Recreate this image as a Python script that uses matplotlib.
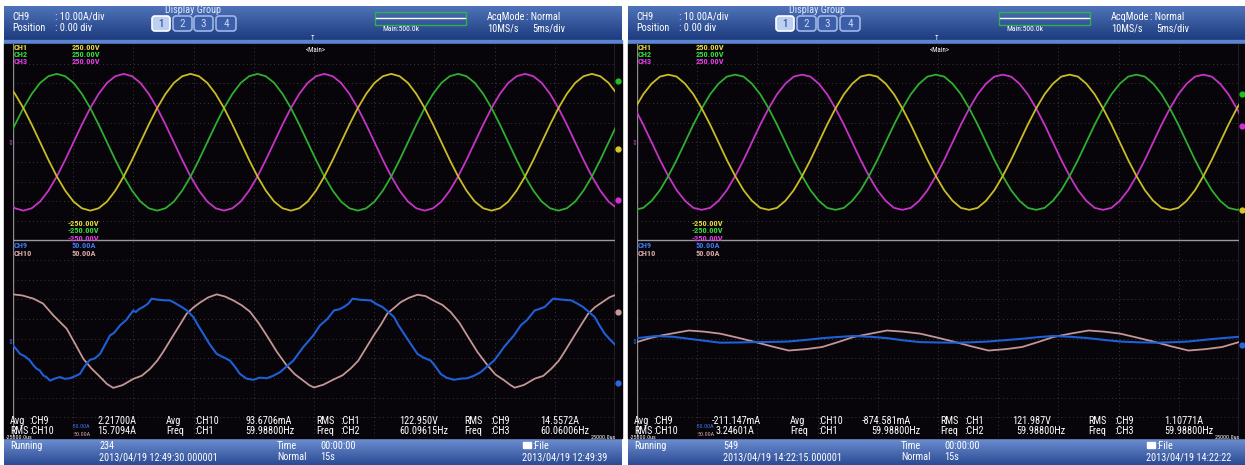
import matplotlib
matplotlib.use("Agg")
import matplotlib.pyplot as plt
import numpy as np
from matplotlib.patches import Rectangle, FancyBboxPatch
from matplotlib.colors import LinearSegmentedColormap

plt.rcParams['font.family'] = ['Roboto Condensed', 'Ubuntu Mono', 'Archivo Narrow', 'DejaVu Sans']

W, H = 1245, 465

# ---- sampling of the voltage traces (ms) ----
dt = 0.6944                      # one sample every 15 degrees of the 60 Hz cycle
t0_left, t0_right = -0.527, -0.177
n_volt = 75

# ---- voltages read from the screens (V) ----
ch1_left = [151, 123, 87, 45, 0, -45, -87, -123, -151, -168, -174, -168, -151, -123, -87, -45, 0, 45, 87, 123, 151, 168, 174, 168,
            151, 123, 87, 45, 0, -45, -87, -123, -151, -168, -174, -168, -151, -123, -87, -45, 0, 45, 87, 123, 151, 168, 174, 168,
            151, 123, 87, 45, 0, -45, -87, -123, -151, -168, -174, -168, -151, -123, -87, -45, 0, 45, 87, 123, 151, 168, 174, 168,
            151, 123, 87]
ch2_left = [0, 45, 87, 123, 151, 168, 174, 168, 151, 123, 87, 45, 0, -45, -87, -123, -151, -168, -174, -168, -151, -123, -87, -45,
            0, 45, 87, 123, 151, 168, 174, 168, 151, 123, 87, 45, 0, -45, -87, -123, -151, -168, -174, -168, -151, -123, -87, -45,
            0, 45, 87, 123, 151, 168, 174, 168, 151, 123, 87, 45, 0, -45, -87, -123, -151, -168, -174, -168, -151, -123, -87, -45,
            0, 45, 87]
ch3_left = [-151, -168, -174, -168, -151, -123, -87, -45, 0, 45, 87, 123, 151, 168, 174, 168, 151, 123, 87, 45, 0, -45, -87, -123,
            -151, -168, -174, -168, -151, -123, -87, -45, 0, 45, 87, 123, 151, 168, 174, 168, 151, 123, 87, 45, 0, -45, -87, -123,
            -151, -168, -174, -168, -151, -123, -87, -45, 0, 45, 87, 123, 151, 168, 174, 168, 151, 123, 87, 45, 0, -45, -87, -123,
            -151, -168, -174]
ch1_right = [86, 122, 149, 167, 172, 167, 149, 122, 86, 45, 0, -45, -86, -122, -149, -167, -172, -167, -149, -122, -86, -45, 0, 45,
             86, 122, 149, 167, 172, 167, 149, 122, 86, 45, 0, -45, -86, -122, -149, -167, -172, -167, -149, -122, -86, -45, 0, 45,
             86, 122, 149, 167, 172, 167, 149, 122, 86, 45, 0, -45, -86, -122, -149, -167, -172, -167, -149, -122, -86, -45, 0, 45,
             86, 122, 149]
ch2_right = [-172, -167, -149, -122, -86, -45, 0, 45, 86, 122, 149, 167, 172, 167, 149, 122, 86, 45, 0, -45, -86, -122, -149, -167,
             -172, -167, -149, -122, -86, -45, 0, 45, 86, 122, 149, 167, 172, 167, 149, 122, 86, 45, 0, -45, -86, -122, -149, -167,
             -172, -167, -149, -122, -86, -45, 0, 45, 86, 122, 149, 167, 172, 167, 149, 122, 86, 45, 0, -45, -86, -122, -149, -167,
             -172, -167, -149]
ch3_right = [86, 45, 0, -45, -86, -122, -149, -167, -172, -167, -149, -122, -86, -45, 0, 45, 86, 122, 149, 167, 172, 167, 149, 122,
             86, 45, 0, -45, -86, -122, -149, -167, -172, -167, -149, -122, -86, -45, 0, 45, 86, 122, 149, 167, 172, 167, 149, 122,
             86, 45, 0, -45, -86, -122, -149, -167, -172, -167, -149, -122, -86, -45, 0, 45, 86, 122, 149, 167, 172, 167, 149, 122,
             86, 45, 0]

# ---- currents read from the screens (ms, A) ----
ch10_left_t = [0.0, 0.8, 1.7, 2.5, 3.35, 4.46, 5.2, 5.84, 6.5, 7.23, 7.8, 8.33, 9.1, 10.0, 10.7, 11.38, 12.0, 12.48, 13.31,
               13.9, 14.43, 15.0, 15.53, 16.2, 16.92, 17.6, 18.3, 19.0, 19.68, 20.4, 21.07, 21.9, 22.73, 23.4, 24.11, 24.6,
               25.0, 25.77, 26.67, 27.37, 28.05, 28.67, 29.15, 29.98, 30.57, 31.1, 31.67, 32.2, 32.87, 33.59, 34.27, 34.97,
               35.67, 36.35, 37.07, 37.74, 38.57, 39.4, 40.07, 40.78, 41.3, 41.67, 42.44, 43.34, 44.04, 44.72, 45.34, 45.82,
               46.65, 47.24, 47.77, 48.34, 48.87, 49.54, 50.0]
ch10_left = [22.6, 22.0, 20.4, 17.9, 11.9, 5.1, -3.0, -10.2, -15.0, -19.4, -23.0, -25.0, -23.6, -20.4, -18.8, -15.3, -11.0, -6.6, 1.7,
             7.5, 12.8, 16.0, 18.4, 21.0, 22.6, 21.5, 19.5, 17.0, 13.8, 8.0, 1.7, -6.5, -13.6, -18.0, -21.3, -23.6,
             -24.8, -23.4, -20.6, -18.6, -15.1, -11.2, -6.4, 1.9, 7.3, 12.9, 15.8, 18.6, 20.8, 22.4, 21.7, 19.3,
             17.2, 13.6, 8.2, 1.5, -6.7, -13.4, -18.2, -21.1, -23.5, -24.9, -23.5, -20.3, -18.9, -15.2, -11.1, -6.5,
             1.8, 7.6, 12.7, 16.1, 18.3, 21.1, 22.2]

ch9_left_t = [0.0, 0.3, 0.58, 1.0, 1.41, 1.7, 1.97, 2.2, 2.52, 2.8, 3.07, 3.5, 3.9, 4.3, 4.73, 5.1, 5.56, 5.9, 6.2, 6.4, 6.8,
              7.23, 7.6, 8.06, 8.4, 8.89, 9.4, 9.99, 10.2, 10.5, 10.82, 11.2, 11.52, 12.0, 12.5, 13.04, 13.5, 14.0, 14.4,
              14.97, 15.4, 15.8, 16.3, 16.92, 17.4, 18.02, 18.4, 18.85, 19.4, 19.95, 20.5, 21.07, 21.6, 22.18, 22.7, 23.29,
              23.7, 24.11, 24.5, 24.94, 25.5, 26.1, 26.66, 27.1, 27.49, 27.9, 28.19, 28.9, 29.71, 30.2, 30.67, 31.2, 31.64,
              32.0, 32.47, 33.0, 33.59, 34.1, 34.69, 35.1, 35.52, 36.0, 36.62, 37.2, 37.74, 38.3, 38.85, 39.4, 39.96, 40.4,
              40.78, 41.2, 41.61, 42.17, 42.7, 43.33, 43.7, 44.16, 44.5, 44.86, 45.6, 46.38, 46.9, 47.34, 47.8, 48.31, 48.7,
              49.14, 49.6, 50.0]
ch9_left = [-3.4, -5.5, -7.7, -9.0, -11.1, -13.5, -15.3, -16.0, -18.7, -19.6, -21.3, -20.2, -19.5, -20.4, -20.1, -19.2, -17.9,
            -14.5, -12.0, -10.7, -10.0, -7.7, -3.5, 1.7, 3.0, 6.8, 9.5, 14.4, 13.6, 15.2, 16.2, 17.8, 20.4, 19.9, 19.6, 19.5,
            18.0, 16.2, 14.6, 11.1, 6.5, 2.6, -2.5, -7.7, -9.2, -11.1, -14.0, -17.9, -20.3, -20.9, -19.8, -20.1, -18.9, -17.0,
            -14.2, -11.1, -7.6, -4.2, -1.5, 1.7, 6.8, 10.0, 14.4, 15.0, 16.2, 18.0, 20.4, 19.8, 19.5, 17.6, 16.2, 13.5, 11.1,
            7.0, 2.6, -2.3, -7.7, -9.6, -11.1, -14.2, -17.9, -19.8, -20.9, -20.3, -20.1, -18.8, -17.0, -14.0, -11.1, -7.5,
            -4.2, -1.2, 1.7, 6.8, 9.6, 14.4, 15.1, 16.2, 18.2, 20.4, 19.9, 19.5, 17.8, 16.2, 13.8, 11.1, 6.9, 2.6, -0.5, -3.0]

ch10_right_t = [0.0, 1.0, 2.03, 3.2, 4.3, 5.6, 6.91, 8.4, 9.84, 11.2, 12.6, 14.0, 15.38, 16.7, 17.98, 19.4, 20.76, 22.1,
                23.52, 25.0, 26.45, 27.8, 29.2, 30.6, 31.99, 33.3, 34.59, 36.0, 37.5, 38.8, 40.13, 41.6, 43.06, 44.4, 45.8,
                47.2, 48.6, 50.0]
ch10_right = [-1.7, 0.2, 1.7, 3.0, 4.2, 3.6, 2.6, 0.5, -1.7, -3.9, -6.0, -5.3, -4.2, -1.7, 0.9, 2.6, 4.2, 3.6,
              2.6, 0.5, -1.7, -3.9, -6.0, -5.3, -4.2, -1.7, 0.9, 2.6, 4.2, 3.6, 2.6, 0.5, -1.7, -3.9, -6.0,
              -5.3, -4.2, -1.7]
ch9_right_t = [0.0, 1.6, 3.0, 4.3, 5.6, 6.9, 8.4, 9.8, 11.2, 12.6, 14.0, 15.4, 16.7, 18.0, 19.4, 20.8, 22.1, 23.5, 25.0,
               26.5, 27.8, 29.2, 30.6, 32.0, 33.3, 34.6, 36.0, 37.5, 38.8, 40.1, 41.6, 43.1, 44.4, 45.8, 47.2, 48.6, 50.0]
ch9_right = [0.3, 1.4, 1.0, 0.0, -1.0, -2.0, -1.9, -1.7, -1.6, -1.4, -0.6, 0.3, 0.9, 1.4, 1.0, 0.3, -0.8, -1.7, -1.9,
             -2.0, -1.8, -1.4, -0.7, 0.0, 0.8, 1.4, 1.0, 0.3, -0.6, -1.4, -1.8, -2.0, -1.8, -1.4, -0.5, 0.3, 1.0]

# ---- screen texts ----
left_info = {
    'count': '234', 'start': '2013/04/19 12:49:30.000001', 'stop': '2013/04/19 12:49:39',
    'row1': [('Avg', ':CH9', '2.21700A', 97), ('Avg', ':CH10', '93.6706mA', 245),
             ('RMS', ':CH1', '122.950V', 399), ('RMS', ':CH9', '14.5572A', 540)],
    'row2': [('RMS', ':CH10', '15.7094A', 97), ('Freq', ':CH1', '59.98800Hz', 245),
             ('Freq', ':CH2', '60.09615Hz', 399), ('Freq', ':CH3', '60.06006Hz', 540)],
    'marks': [('#22c022', 81), ('#d8c820', 149), ('#d030d0', 200), ('#c89a9a', 312), ('#2a66e0', 383)],
}
right_info = {
    'count': '549', 'start': '2013/04/19 14:22:15.000001', 'stop': '2013/04/19 14:22:22',
    'row1': [('Avg', ':CH9', '-211.147mA', 88), ('Avg', ':CH10', '-874.581mA', 238),
             ('RMS', ':CH1', '121.987V', 388), ('RMS', ':CH9', '1.10771A', 540)],
    'row2': [('RMS', ':CH10', '3.24601A', 92), ('Freq', ':CH1', '59.98800Hz', 247),
             ('Freq', ':CH2', '59.98800Hz', 392), ('Freq', ':CH3', '59.98800Hz', 540)],
    'marks': [('#22c022', 94), ('#d030d0', 126), ('#d8c820', 210), ('#2a66e0', 345)],
}

C_CH1, C_CH2, C_CH3 = '#c9bd25', '#2fae2f', '#c634c6'
C_CH9, C_CH10 = '#1f5fd6', '#c49696'

fig = plt.figure(figsize=(W / 100, H / 100), dpi=100)
fig.patch.set_facecolor('white')

bg = fig.add_axes([0, 0, 1, 1], zorder=0)
bg.axis('off')
tx = fig.add_axes([0, 0, 1, 1], zorder=5)
tx.axis('off')
tx.patch.set_alpha(0)
for a in (bg, tx):
    a.set_xlim(0, W)
    a.set_ylim(H, 0)


def grad(x0, x1, y0, y1, ctop, cbot):
    cm = LinearSegmentedColormap.from_list('g', [ctop, cbot])
    g = np.linspace(0, 1, 64).reshape(-1, 1)
    bg.imshow(g, cmap=cm, extent=(x0, x1, y1, y0), aspect='auto', zorder=1, interpolation='bilinear')


def txt(x, y, s, color='white', size=7.4, **kw):
    tx.text(x, y, s, color=color, fontsize=size, va='center', ha=kw.pop('ha', 'left'), **kw)


def panel(ox, v1, v2, v3, ct9, c9, ct10, c10, info):
    x0, x1 = ox + 4, min(ox + 622, W)
    # header and status bars
    grad(x0, x1, 6, 40, '#4f73b9', '#1d3b7e')
    bg.add_patch(Rectangle((x0, 40), x1 - x0, 4, color='#5b85cf', zorder=2))
    bg.add_patch(Rectangle((x0, 44), x1 - x0, 394, color='#07040a', zorder=2))
    grad(x0, x1, 438, 465, '#6f90d2', '#2a4b93')

    # header texts
    txt(ox + 12, 17, 'CH9')
    txt(ox + 55, 17, ': 10.00A/div')
    txt(ox + 12, 28, 'Position')
    txt(ox + 55, 28, ': 0.00 div')
    txt(ox + 193, 10, 'Display Group', color='#dfe8ff', ha='center')
    for i, (bx0, bx1) in enumerate([(152, 170), (173, 192), (194, 213), (216, 236)]):
        sel = i == 0
        tx.add_patch(FancyBboxPatch((ox + bx0 + 1.5, 17.5), bx1 - bx0 - 3, 12,
                                    boxstyle='round,pad=1.5,rounding_size=3',
                                    fc='#bcd0f2' if sel else '#3c5ea8',
                                    ec='white' if sel else '#9fb6e6', lw=1.2))
        txt(ox + (bx0 + bx1) / 2, 24, str(i + 1), color='#1d3b7e' if sel else '#c8d6f4', ha='center', size=8)
    tx.add_patch(Rectangle((ox + 375, 12), 91, 13, fill=False, ec='#2fb04a', lw=1))
    tx.plot([ox + 376, ox + 465], [18.5, 18.5], color='white', lw=1)
    txt(ox + 382, 29, 'Main:500.0k', size=5.5)
    txt(ox + 487, 17, 'AcqMode')
    txt(ox + 526, 17, ': Normal')
    txt(ox + 487, 28, '10MS/s')
    txt(ox + 532, 28, '5ms/div')

    # scope
    ax = fig.add_axes([(ox + 13) / W, (H - 437) / H, 602 / W, 393 / H], zorder=3)
    ax.patch.set_alpha(0)
    ax.set_xlim(0, 50)
    ax.set_ylim(-5, 5)
    ax.axis('off')
    for k in range(1, 10):
        ax.axvline(5 * k, color='#3a3a3a', lw=0.7, ls=(0, (1, 3)))
    for y in np.arange(-4.5, 5, 0.5):
        if abs(y) > 1e-6:
            ax.axhline(y, color='#3a3a3a', lw=0.7, ls=(0, (1, 3)))
    ax.axvline(0, color='#8c8c8c', lw=1)
    ax.axvline(50, color='#8c8c8c', lw=1)
    ax.axhline(0, color='#9a9a9a', lw=1)

    tt = t0_left if ox == 0 else t0_right
    tt = tt + dt * np.arange(n_volt)
    ax.plot(tt, 2.5 + np.array(v3) / 100, color=C_CH3, lw=1.3)
    ax.plot(tt, 2.5 + np.array(v2) / 100, color=C_CH2, lw=1.3)
    ax.plot(tt, 2.5 + np.array(v1) / 100, color=C_CH1, lw=1.3)
    ax.plot(ct10, -2.5 + np.array(c10) / 20, color=C_CH10, lw=1.3)
    ax.plot(ct9, -2.5 + np.array(c9) / 20, color=C_CH9, lw=1.5)

    for col, py in info['marks']:
        tx.plot(ox + 618, py, 'o', color=col, ms=3.5)
    txt(ox + 8, 143, '⇕', color='#c040c0', size=5, family='DejaVu Sans')
    txt(ox + 8, 342, '⇕', color='#3070e0', size=5, family='DejaVu Sans')
    txt(ox + 313, 39, 'T', size=5, ha='center')
    txt(ox + 316, 50, '<Main>', size=5, ha='center')

    # channel labels
    for i, (name, col) in enumerate([('CH1', '#e2dc3a'), ('CH2', '#35dc35'), ('CH3', '#e040e0')]):
        txt(ox + 14, 47 + 7.5 * i, name, color=col, size=6, weight='bold')
        txt(ox + 72, 47 + 7.5 * i, '250.00V', color=col, size=6, weight='bold')
        txt(ox + 68, 223 + 7.5 * i, '-250.00V', color=col, size=6, weight='bold')
    txt(ox + 14, 245, 'CH9', color='#3c78f0', size=6, weight='bold')
    txt(ox + 72, 245, '50.00A', color='#3c78f0', size=6, weight='bold')
    txt(ox + 14, 253, 'CH10', color='#d4a8a8', size=6, weight='bold')
    txt(ox + 72, 253, '50.00A', color='#d4a8a8', size=6, weight='bold')

    # measurements
    colx = [(10, 29), (166, 194), (316, 340), (464, 490)]
    for row, y in (('row1', 421), ('row2', 431)):
        for (lx, cx), (lab, ch, val, vx) in zip(colx, info[row]):
            txt(ox + lx, y, lab)
            txt(ox + cx, y, ch)
            txt(ox + vx, y, val)
    txt(ox + 72, 426, '-50.00A', color='#3c78f0', size=4.3)
    txt(ox + 74, 434, '50.00A', color='#d4a8a8', size=4.3)
    txt(ox + 6, 437, '-25000.0us', size=4.3)
    txt(ox + 591, 437, '25000.0us', size=4.3)

    # status bar
    txt(ox + 10, 446, 'Running')
    txt(ox + 99, 446, info['count'])
    txt(ox + 99, 457, info['start'])
    txt(ox + 277, 446, 'Time')
    txt(ox + 320, 446, '00:00:00')
    txt(ox + 277, 457, 'Normal')
    txt(ox + 320, 457, '15s')
    tx.add_patch(Rectangle((ox + 523, 442), 8, 6, color='white'))
    txt(ox + 532, 446, ':File')
    txt(ox + 522, 457, info['stop'])


panel(0, ch1_left, ch2_left, ch3_left, ch9_left_t, ch9_left, ch10_left_t, ch10_left, left_info)
panel(624, ch1_right, ch2_right, ch3_right, ch9_right_t, ch9_right, ch10_right_t, ch10_right, right_info)

for a in (bg, tx):
    a.set_xlim(0, W)
    a.set_ylim(H, 0)

fig.savefig('out.png', dpi=100, facecolor='white')
